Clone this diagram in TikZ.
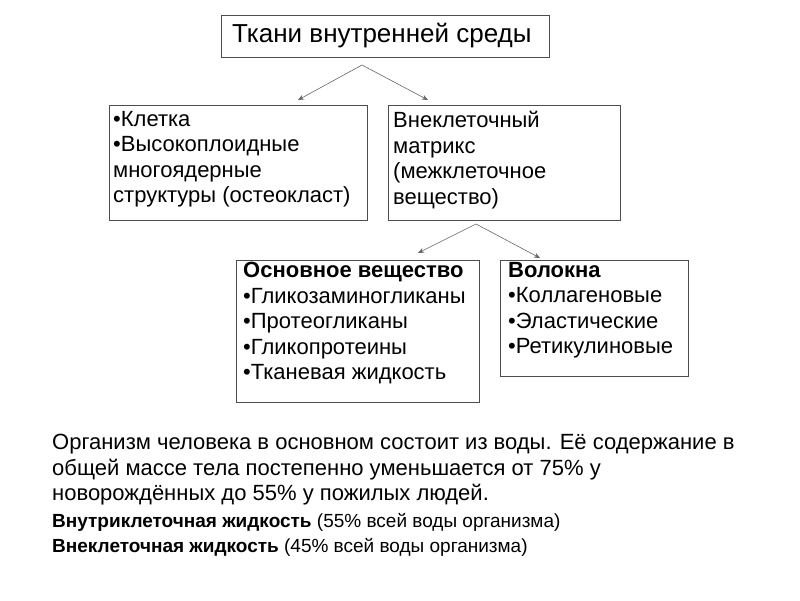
\documentclass[tikz,border=0pt]{standalone}
\usepackage{fontspec}
\setmainfont{Liberation Sans}
\usetikzlibrary{arrows.meta}
\begin{document}
\begin{tikzpicture}[x=1pt,y=-1pt,
  box/.style={draw=black!70,line width=0.6pt,inner sep=0pt},
  txt/.style={anchor=north west,align=left,font=\fontsize{22}{25.5}\selectfont,inner sep=0pt},
  arr/.style={draw=black!60,line width=0.6pt,-{Stealth[length=6pt,width=5pt]}}]
\useasboundingbox (0,0) rectangle (800,600);
\draw[box] (221,15) rectangle (549,57);
\node[txt,font=\fontsize{26}{28}\selectfont] (t) at (232,23) {Ткани внутренней среды};
\draw[box] (109,105) rectangle (367,220);
\node[txt] (a) at (113,111) {•Клетка\\•Высокоплоидные\\многоядерные\\структуры (остеокласт)};
\draw[box] (388,105) rectangle (620,220);
\node[txt] (b) at (393,111) {Внеклеточный\\матрикс\\(межклеточное\\вещество)};
\draw[box] (236,260) rectangle (479,402);
\node[txt] (c) at (243,262) {\textbf{Основное вещество}\\•Гликозаминогликаны\\•Протеогликаны\\•Гликопротеины\\•Тканевая жидкость};
\draw[box] (500,260) rectangle (688,376);
\node[txt] (d) at (508,262) {\textbf{Волокна}\\•Коллагеновые\\•Эластические\\•Ретикулиновые};
\coordinate (p1) at (362,65);
\coordinate (a1) at (298,100);
\coordinate (b1) at (428,100);
\draw[arr] (p1) -- (a1);
\draw[arr] (p1) -- (b1);
\coordinate (p2) at (476,224);
\coordinate (c1) at (418,253);
\coordinate (d1) at (540,258);
\draw[arr] (p2) -- (c1);
\draw[arr] (p2) -- (d1);
\node[txt] (e) at (52,434) {Организм человека в основном состоит из воды. Её содержание в\\общей массе тела постепенно уменьшается от 75\% у\\новорождённых до 55\% у пожилых людей.};
\node[txt,font=\fontsize{19}{25.5}\selectfont] (f) at (52,513) {\textbf{Внутриклеточная жидкость} (55\% всей воды организма)\\\textbf{Внеклеточная жидкость} (45\% всей воды организма)};
\end{tikzpicture}
\end{document}
